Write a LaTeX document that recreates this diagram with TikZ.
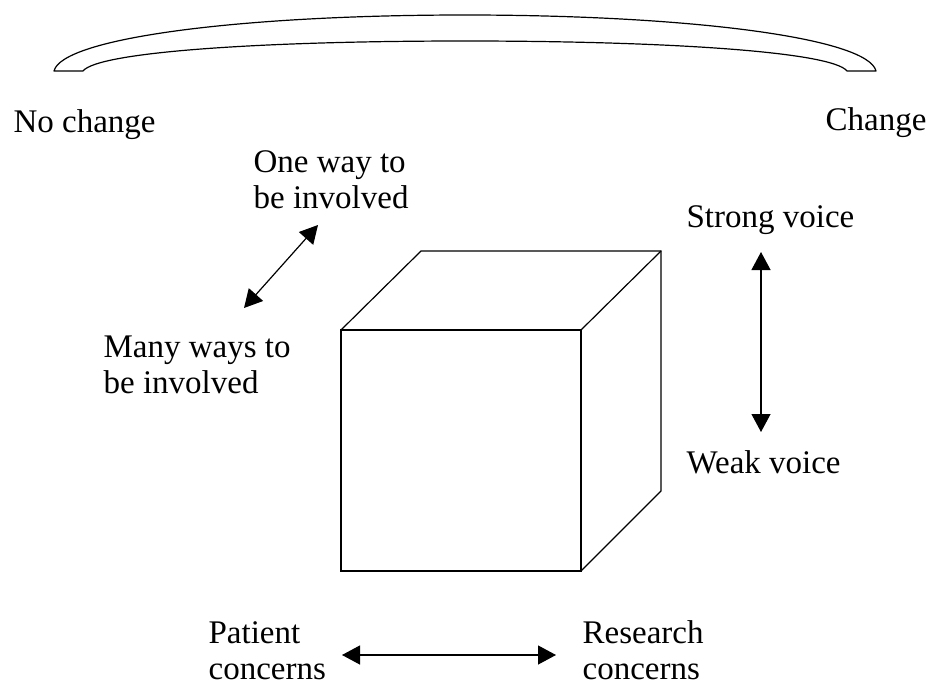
\documentclass[tikz,border=0pt]{standalone}
\usepackage{fontspec}
\setmainfont{Liberation Serif}
\usetikzlibrary{arrows.meta}

\tikzset{
  lbl/.style = {inner sep=0pt, anchor=base west, align=left, font=\fontsize{33}{36}\selectfont},
  twoway/.style = {line width=1.2pt, {Triangle[length=18pt,width=19pt]}-{Triangle[length=18pt,width=19pt]}}
}

\begin{document}
\begin{tikzpicture}[x=1pt, y=-1pt, line width=1.2pt]
\useasboundingbox (0,0) rectangle (929,685);
\draw[line join=round] (54,71) .. controls (62,38) and (240,15) .. (465,15)
  .. controls (690,15) and (868,38) .. (876,71) -- (847,71)
  .. controls (832,52) and (670,41) .. (465,41)
  .. controls (260,41) and (98,52) .. (83,71) -- cycle;
\node[lbl] (nochange) at (13,132) {No change};
\node[lbl, anchor=base east] (change) at (927,130) {Change};
\node[lbl] (oneway) at (253,208) {One way to\\be involved};
\node[lbl] (manyways) at (103,393) {Many ways to\\be involved};
\node[lbl] (strong) at (686,227) {Strong voice};
\node[lbl] (weak) at (686,473) {Weak voice};
\node[lbl] (patient) at (208,679) {Patient\\concerns};
\node[lbl] (research) at (582,679) {Research\\concerns};
\coordinate (d1) at (244,308);
\coordinate (d2) at (318,225);
\coordinate (v1) at (761,252);
\coordinate (v2) at (761,432);
\coordinate (h1) at (342,655);
\coordinate (h2) at (556,655);
\draw[twoway] (d1) -- (d2);
\draw[twoway] (v1) -- (v2);
\draw[twoway] (h1) -- (h2);
\draw[line join=miter] (341,330) rectangle (581,571);
\draw[line join=miter] (341,330) -- (421,251) -- (661,251) -- (661,491) -- (581,571);
\draw (581,330) -- (661,251);
\end{tikzpicture}
\end{document}
